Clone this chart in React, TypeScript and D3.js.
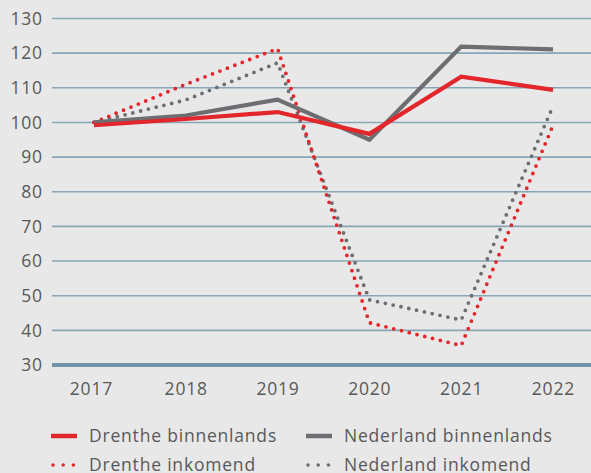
import React from "react";
import * as d3 from "d3";

const years = ["2017", "2018", "2019", "2020", "2021", "2022"];
const drentheBinnen = [99.2, 101, 103, 96.7, 113.2, 109.4];
const nederlandBinnen = [100, 102, 106.6, 95, 121.9, 121.1];
const drentheInkomend = [100, 111, 121.3, 42.2, 35.6, 99.2];
const nederlandInkomend = [100, 106.5, 117.2, 48.8, 43, 104.7];
const yTicks = [30, 40, 50, 60, 70, 80, 90, 100, 110, 120, 130];

const W = 591;
const H = 473;
const RED = "#e2262b";
const GREY = "#6d6e71";
const FONT = "'Open Sans', Roboto, sans-serif";
const FS = 17.5;
const LS = 0.8;

export default function App() {
  const x = d3.scalePoint<string>().domain(years).range([94, 553]);
  const y = d3.scaleLinear().domain([30, 130]).range([365, 18.5]);
  const line = d3
    .line<number>()
    .x((_, i) => x(years[i]) as number)
    .y((d) => y(d));

  const series = [
    { name: "Nederland inkomend", data: nederlandInkomend, color: GREY, dotted: true },
    { name: "Drenthe inkomend", data: drentheInkomend, color: RED, dotted: true },
    { name: "Nederland binnenlands", data: nederlandBinnen, color: GREY, dotted: false },
    { name: "Drenthe binnenlands", data: drentheBinnen, color: RED, dotted: false },
  ];

  const legend = [
    { name: "Drenthe binnenlands", color: RED, dotted: false, lx: 51, ly: 436 },
    { name: "Nederland binnenlands", color: GREY, dotted: false, lx: 306, ly: 436 },
    { name: "Drenthe inkomend", color: RED, dotted: true, lx: 51, ly: 465 },
    { name: "Nederland inkomend", color: GREY, dotted: true, lx: 306, ly: 465 },
  ];

  return (
    <svg
      width={W}
      height={H}
      style={{ position: "absolute", left: 0, top: 0, background: "#e8e8e8" }}
    >
      <rect x={0} y={0} width={W} height={H} fill="#e8e8e8" />
      {yTicks.map((t) => (
        <g key={t}>
          {t !== 30 && (
            <line x1={52} x2={W} y1={y(t)} y2={y(t)} stroke="#87a6b6" strokeWidth={1.6} />
          )}
          <text
            x={42 + LS}
            y={y(t)}
            dy="0.36em"
            textAnchor="end"
            fontFamily={FONT}
            fontSize={FS}
            letterSpacing={LS}
            fill="#595959"
          >
            {t}
          </text>
        </g>
      ))}
      <line x1={52} x2={W} y1={y(30)} y2={y(30)} stroke="#6f94a7" strokeWidth={4} />
      {years.map((yr, i) => (
        <text
          key={yr}
          x={(x(yr) as number) - (i === 0 ? 3 : 0) + LS / 2}
          y={394.5}
          textAnchor="middle"
          fontFamily={FONT}
          fontSize={FS}
          letterSpacing={LS}
          fill="#595959"
        >
          {yr}
        </text>
      ))}
      {series.map((s) => (
        <path
          key={s.name}
          d={line(s.data) || ""}
          fill="none"
          stroke={s.color}
          strokeWidth={s.dotted ? 3.8 : 4.2}
          strokeDasharray={s.dotted ? "0 8" : undefined}
          strokeLinecap={s.dotted ? "round" : "butt"}
          strokeLinejoin="miter"
        />
      ))}
      {legend.map((l) => (
        <g key={l.name}>
          {l.dotted ? (
            <line
              x1={l.lx + 2}
              x2={l.lx + 24}
              y1={l.ly}
              y2={l.ly}
              stroke={l.color}
              strokeWidth={3.6}
              strokeDasharray="0 10.2"
              strokeLinecap="round"
            />
          ) : (
            <line
              x1={l.lx}
              x2={l.lx + 26}
              y1={l.ly}
              y2={l.ly}
              stroke={l.color}
              strokeWidth={4.5}
            />
          )}
          <text
            x={l.lx + 38}
            y={l.ly}
            dy="0.36em"
            fontFamily={FONT}
            fontSize={FS}
            letterSpacing={LS}
            fill="#595959"
          >
            {l.name}
          </text>
        </g>
      ))}
    </svg>
  );
}
